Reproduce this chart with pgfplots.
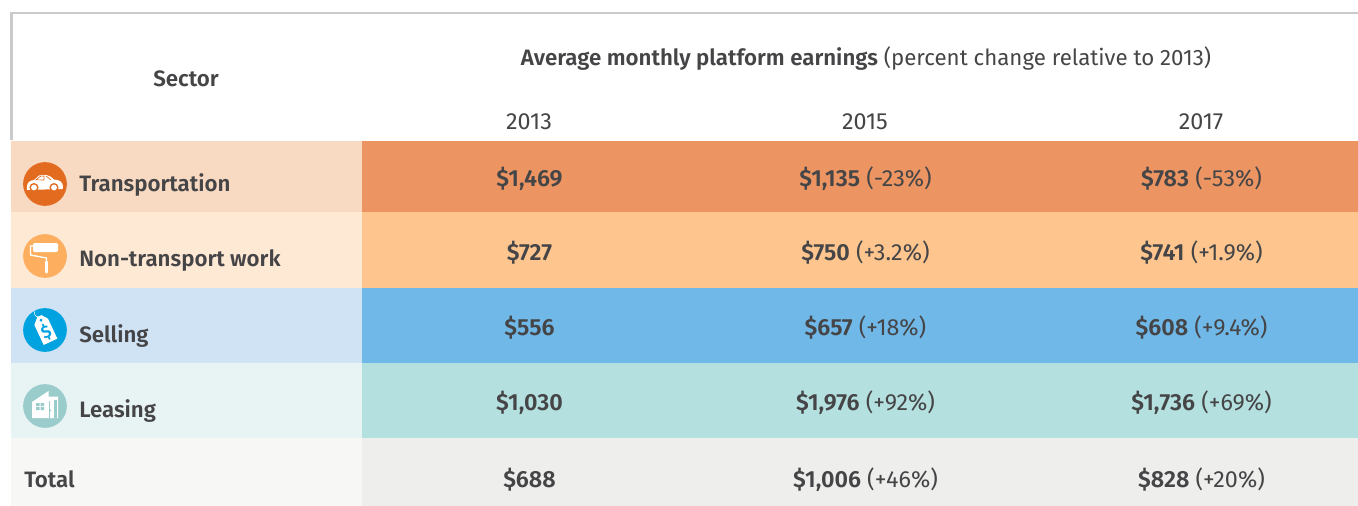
\documentclass[border=0pt]{standalone}
\usepackage{pgfplots}
\pgfplotsset{compat=1.18}
\usepackage{fontspec}
\setmainfont{Fira Sans}[BoldFont={Fira Sans SemiBold}]
\definecolor{ink}{HTML}{454547}
\definecolor{rule}{HTML}{C8CACC}
\definecolor{aL}{HTML}{F8D9C1}\definecolor{aR}{HTML}{EC9562}\definecolor{aI}{HTML}{E36B1F}
\definecolor{bL}{HTML}{FEE9D5}\definecolor{bR}{HTML}{FEC68E}\definecolor{bI}{HTML}{FDAE5E}
\definecolor{cL}{HTML}{D0E3F5}\definecolor{cR}{HTML}{70B8E7}\definecolor{cI}{HTML}{00A3DF}
\definecolor{dL}{HTML}{E8F4F3}\definecolor{dR}{HTML}{B4E0DF}\definecolor{dI}{HTML}{9ACCCC}
\definecolor{eL}{HTML}{F7F7F5}\definecolor{eR}{HTML}{EEEEEC}
\newcommand{\fs}{\fontsize{16.7}{18}\selectfont}
\newcommand{\vs}{\fontsize{17.5}{19}\selectfont}
\newcommand{\cell}[5]{\addplot[draw=none,fill=#5,forget plot] coordinates {(#1,#3)(#2,#3)(#2,#4)(#1,#4)} -- cycle;}
\newcommand{\txt}[3]{\node[text=ink,anchor=center,inner sep=0pt,yshift=-2.2pt,font=\fs] at (axis cs:#1,#2) {\strut #3};}
\newcommand{\val}[3]{\node[text=ink,anchor=center,inner sep=0pt,yshift=-2.2pt,font=\vs] at (axis cs:#1,#2) {\strut #3};}
\newcommand{\lab}[3]{\node[text=ink,anchor=west,inner sep=0pt,yshift=-2.2pt,font=\fs] at (axis cs:#1,#2) {\strut\textbf{#3}};}
\begin{document}
\begin{tikzpicture}
\begin{axis}[x=0.75pt,y=0.75pt,xmin=0,xmax=1358,ymin=0,ymax=506,y dir=reverse,hide axis,clip=true,
  scale only axis]
\cell{0}{1358}{0}{506}{white}
\cell{11}{362}{141}{212}{aL}\cell{362}{1358}{141}{212}{aR}
\cell{11}{362}{212}{287.5}{bL}\cell{362}{1358}{212}{287.5}{bR}
\cell{11}{362}{287.5}{363}{cL}\cell{362}{1358}{287.5}{363}{cR}
\cell{11}{362}{363}{438}{dL}\cell{362}{1358}{363}{438}{dR}
\cell{11}{362}{438}{506}{eL}\cell{362}{1358}{438}{506}{eR}
\addplot[rule,line width=2pt,forget plot] coordinates {(11.5,140)(11.5,13)(1358,13)};
% header
\txt{186}{78.5}{\textbf{Sector}}
\txt{866}{57}{\textbf{Average monthly platform earnings} (percent change relative to 2013)}
\val{529}{121.5}{2013}\val{865}{121.5}{2015}\val{1201}{121.5}{2017}
% labels
\lab{79}{183}{Transportation}
\lab{79}{258.5}{Non-transport work}
\lab{79}{334}{Selling}
\lab{79}{409}{Leasing}
\lab{24}{479.5}{Total}
% values
\val{529.5}{178}{\textbf{\$1,469}}\val{865.5}{178}{\textbf{\$1,135} (-23\%)}\val{1201.5}{178}{\textbf{\$783} (-53\%)}
\val{529.5}{252}{\textbf{\$727}}\val{865.5}{252}{\textbf{\$750} (+3.2\%)}\val{1201.5}{252}{\textbf{\$741} (+1.9\%)}
\val{529.5}{327}{\textbf{\$556}}\val{865.5}{327}{\textbf{\$657} (+18\%)}\val{1201.5}{327}{\textbf{\$608} (+9.4\%)}
\val{529.5}{402}{\textbf{\$1,030}}\val{865.5}{402}{\textbf{\$1,976} (+92\%)}\val{1201.5}{402}{\textbf{\$1,736} (+69\%)}
\val{529.5}{479}{\textbf{\$688}}\val{865.5}{479}{\textbf{\$1,006} (+46\%)}\val{1201.5}{479}{\textbf{\$828} (+20\%)}
% car icon
\begin{scope}[shift={(axis cs:45,184)},x=0.75pt,y=-0.75pt]
\fill[aI] (0,0) circle (16.4pt);
\fill[white] (-18,6) .. controls (-18.5,1) and (-18,-3) .. (-11,-4) -- (-6,-8.5) .. controls (0,-10) and (5,-9) .. (9,-4.5) .. controls (15,-4) and (18,-2) .. (18,3) -- (17.5,5) -- (-18,6) -- cycle;
\fill[aI] (-11,3.5) circle (3.4pt) (9,3.5) circle (3.4pt);
\fill[white] (-11,3.5) circle (2.2pt) (9,3.5) circle (2.2pt);
\draw[aI,line width=0.5pt] (-9,-4.2) -- (-4.5,-7.8) -- (-1,-8) -- (-1,-4) -- cycle (1,-8) -- (6,-4.2);
\end{scope}
% roller icon
\begin{scope}[shift={(axis cs:45,256)},x=0.75pt,y=-0.75pt]
\fill[bI] (0,0) circle (16.4pt);
\fill[white,rounded corners=1pt] (-12,-13) rectangle (13,-4);
\draw[white,line width=1pt] (-12,-10) -- (-14.5,-10) -- (-14.5,-1) -- (1.5,2) -- (1.5,6);
\draw[white,line width=2.6pt,line cap=round] (1.5,6) -- (1.5,16);
\end{scope}
% tag icon
\begin{scope}[shift={(axis cs:45,330)},x=0.75pt,y=-0.75pt]
\fill[cI] (0,0) circle (16.4pt);
\begin{scope}[rotate=25]
\fill[white] (-1.5,-15) -- (3,-15) -- (7.5,-9) -- (7.5,13) -- (-7.5,13) -- (-7.5,-9) -- cycle;
\fill[cI] (0.5,-10.5) circle (1.2pt);
\node[text=cI,inner sep=0pt,font=\fontsize{13}{13}\selectfont\bfseries,rotate=25] at (0,3) {\$};
\end{scope}
\draw[white,line width=0.4pt] (-6,-13) .. controls (-10,-13) and (-11,-16) .. (-11,-19);
\end{scope}
% house icon
\begin{scope}[shift={(axis cs:45,406)},x=0.75pt,y=-0.75pt]
\fill[dI] (0,0) circle (16.4pt);
\fill[white] (-13,12) -- (-13,-4) -- (3.5,-15) -- (3.5,-9.5) -- (13,-9.5) -- (13,12) -- cycle;
\fill[dI] (3.6,-5) rectangle (4.6,12);
\fill[dI] (9,-6) rectangle (12,12);
\fill[dI] (-9,-3) rectangle (-5.4,0.2) (-4.4,-3) rectangle (-1,0.2) (-9,1) rectangle (-5.4,4.2) (-4.4,1) rectangle (-1,4.2);
\fill[dI] (5.5,4.5) circle (0.6pt);
\end{scope}
\end{axis}
\end{tikzpicture}
\end{document}
